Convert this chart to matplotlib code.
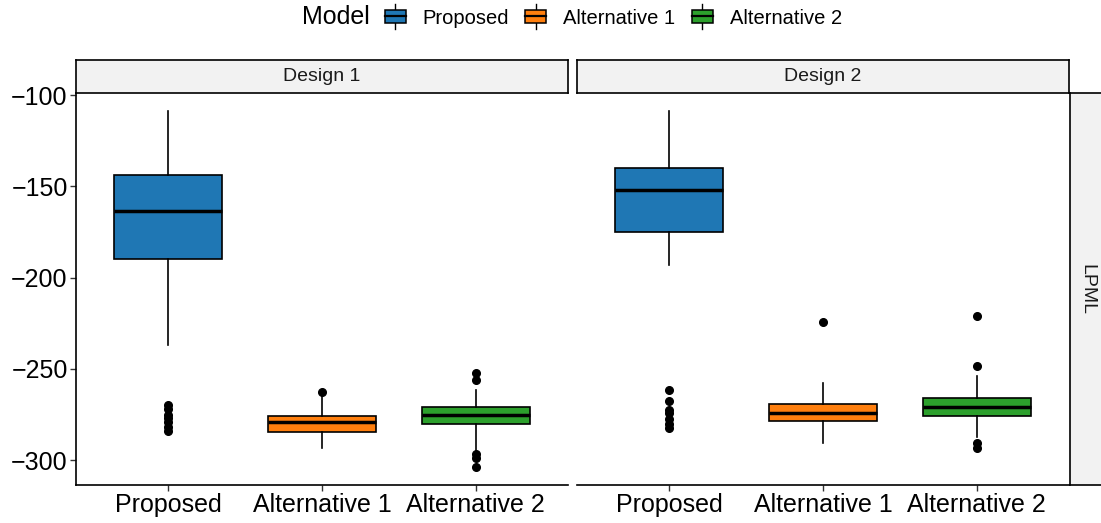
import matplotlib
matplotlib.use("Agg")
import matplotlib.pyplot as plt
from matplotlib.patches import Rectangle, Patch
from matplotlib.lines import Line2D
from matplotlib.legend_handler import HandlerBase

plt.rcParams['font.family'] = ['Liberation Sans', 'DejaVu Sans']

designs = ["Design 1", "Design 2"]
models = ["Proposed", "Alternative 1", "Alternative 2"]
colors = ["#1F77B4", "#FF7F0E", "#2CA02C"]
facet_row_label = "LPML"
legend_title = "Model"
y_ticks = [-100, -150, -200, -250, -300]

# Design 1 box statistics (per model)
d1_whislo = [-237.0, -293.4, -295.0]
d1_q1 = [-189.9, -284.7, -280.3]
d1_med = [-163.6, -279.2, -275.3]
d1_q3 = [-143.8, -275.9, -271.0]
d1_whishi = [-108.8, -264.4, -261.6]
d1_fliers = [[-270, -272, -275, -277, -279, -282, -284],
             [-262.7],
             [-252.3, -256.2, -296.7, -299.0, -303.8]]

# Design 2 box statistics (per model)
d2_whislo = [-193.0, -290.7, -287.4]
d2_q1 = [-175.0, -278.6, -275.9]
d2_med = [-152.0, -274.4, -270.9]
d2_q3 = [-140.0, -269.3, -266.0]
d2_whishi = [-108.8, -257.8, -254.0]
d2_fliers = [[-261.6, -267.7, -272.6, -274.2, -277.5, -280.3, -282.5],
             [-224.4],
             [-221.0, -248.5, -290.7, -293.4]]

W, H = 1101, 523
fig = plt.figure(figsize=(W / 100, H / 100), dpi=100)


def fx(px):
    return px / W


def fy(py):
    return 1 - py / H


panel_top, panel_bot = 93, 485
panels = [(76, 568), (577, 1069)]
all_stats = [
    (d1_whislo, d1_q1, d1_med, d1_q3, d1_whishi, d1_fliers),
    (d2_whislo, d2_q1, d2_med, d2_q3, d2_whishi, d2_fliers),
]
ylim = (-313.6, -98.9)

for pi, ((x0, x1), design, st) in enumerate(zip(panels, designs, all_stats)):
    ax = fig.add_axes([fx(x0), fy(panel_bot), fx(x1 - x0), (panel_bot - panel_top) / H])
    wl, q1, md, q3, wh, fl = st
    stats = []
    for i in range(len(models)):
        stats.append(dict(whislo=wl[i], q1=q1[i], med=md[i], q3=q3[i],
                          whishi=wh[i], fliers=fl[i], label=models[i]))
    bp = ax.bxp(stats, positions=[1, 2, 3], widths=0.7, patch_artist=True,
                showcaps=False,
                boxprops=dict(linewidth=1.2, edgecolor='black'),
                whiskerprops=dict(linewidth=1.2, color='black'),
                medianprops=dict(linewidth=2.5, color='black'),
                flierprops=dict(marker='o', markersize=5.5, markerfacecolor='black',
                                markeredgecolor='black', linestyle='none'))
    for patch, c in zip(bp['boxes'], colors):
        patch.set_facecolor(c)
    ax.set_xlim(0.4, 3.6)
    ax.set_ylim(*ylim)
    ax.set_xticks([1, 2, 3])
    ax.set_xticklabels(models, fontsize=18)
    ax.set_yticks(y_ticks)
    ax.set_yticklabels([str(v).replace('-', '\u2212') for v in y_ticks], fontsize=18)
    ax.tick_params(axis='both', length=4, width=1, color='#333333', pad=2, labelcolor='black')
    for s in ['top', 'right']:
        ax.spines[s].set_visible(False)
    ax.spines['bottom'].set_linewidth(1.2)
    ax.spines['left'].set_linewidth(1.2)
    if pi == 1:
        ax.spines['left'].set_visible(False)
        ax.tick_params(axis='y', left=False, labelleft=False)
    ax.set_facecolor('white')

    # strip on top
    sax = fig.add_axes([fx(x0), fy(panel_top), fx(x1 - x0), (panel_top - 60) / H])
    sax.set_facecolor('#F2F2F2')
    sax.set_xticks([])
    sax.set_yticks([])
    for s in sax.spines.values():
        s.set_linewidth(1.2)
    sax.text(0.5, 0.5, design, ha='center', va='center', fontsize=14, color='#1A1A1A',
             transform=sax.transAxes)

# right strip
rax = fig.add_axes([fx(1070), fy(panel_bot), fx(45), (panel_bot - panel_top) / H])
rax.set_facecolor('#F2F2F2')
rax.set_xticks([])
rax.set_yticks([])
for s in rax.spines.values():
    s.set_linewidth(1.2)
fig.text(fx(1087), fy(289), facet_row_label, rotation=-90, ha='center', va='center',
         fontsize=14, color='#1A1A1A')


class HandlerBoxGlyph(HandlerBase):
    def create_artists(self, legend, orig_handle, xdescent, ydescent, width, height,
                       fontsize, trans):
        fc = orig_handle.get_facecolor()
        cx = -xdescent + width / 2
        cy = -ydescent + height / 2
        bw = width * 0.95
        bh = height
        whisk = Line2D([cx, cx], [cy - height * 0.95, cy + height * 0.95],
                       color='black', linewidth=1.0, transform=trans)
        rect = Rectangle((cx - bw / 2, cy - bh / 2), bw, bh, facecolor=fc, edgecolor='black',
                         linewidth=1.1, transform=trans)
        med = Line2D([cx - bw / 2, cx + bw / 2], [cy, cy],
                     color='black', linewidth=1.6, transform=trans)
        return [whisk, rect, med]


handles = [Patch(facecolor=c) for c in colors]
fig.text(fx(302), fy(17), legend_title, ha='left', va='center', fontsize=18)
fig.legend(handles, models, loc='center left', bbox_to_anchor=(fx(384), fy(18)),
           ncol=3, frameon=False, fontsize=14.5, handlelength=1.1, handleheight=0.6,
           handletextpad=0.8, columnspacing=0.8, borderaxespad=0, borderpad=0,
           handler_map={Patch: HandlerBoxGlyph()})

fig.savefig("out.png", dpi=100, facecolor='white')
